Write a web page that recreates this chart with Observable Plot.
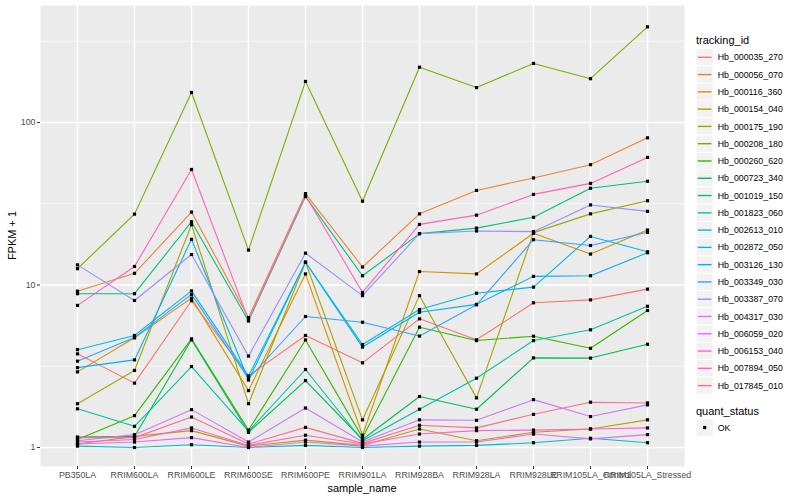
<!DOCTYPE html>
<html><head><meta charset="utf-8">
<script src="https://cdn.jsdelivr.net/npm/d3@7"></script>
<script src="https://cdn.jsdelivr.net/npm/@observablehq/plot@0.6"></script>
<style>body{margin:0;background:#fff;} #chart{width:800px;height:500px;}</style>
</head><body><div id="chart"></div>
<script>
const samples = ["PB350LA","RRIM600LA","RRIM600LE","RRIM600SE","RRIM600PE","RRIM901LA","RRIM928BA","RRIM928LA","RRIM928LE","RRIM105LA_Control","RRIM105LA_Stressed"];
const trackingIds = ["Hb_000035_270","Hb_000056_070","Hb_000116_360","Hb_000154_040","Hb_000175_190","Hb_000208_180","Hb_000260_620","Hb_000723_340","Hb_001019_150","Hb_001823_060","Hb_002613_010","Hb_002872_050","Hb_003126_130","Hb_003349_030","Hb_003387_070","Hb_004317_030","Hb_006059_020","Hb_006153_040","Hb_007894_050","Hb_017845_010"];
const palette = ["#F8766D","#EA8331","#D89000","#C09B00","#A3A500","#7CAE00","#39B600","#00BB4E","#00BF7D","#00C1A3","#00BFC4","#00BAE0","#00B0F6","#35A2FF","#9590FF","#C77CFF","#E76BF3","#FA62DB","#FF62BC","#FF6C91"];
const quantStatus = ["OK"];

// FPKM + 1 per tracking_id, in sample order
const Hb_000035_270 = [3.77, 2.49, 8.0, 2.75, 4.89, 3.32, 6.19, 4.6, 7.77, 8.1, 9.43];
const Hb_000056_070 = [9.16, 11.8, 28.1, 6.3, 36.5, 12.9, 27.4, 38.2, 45.6, 55, 80.5];
const Hb_000116_360 = [2.92, 4.73, 8.3, 2.24, 11.7, 1.19, 12.1, 11.7, 20.8, 15.5, 21.8];
const Hb_000154_040 = [1.05, 1.17, 1.27, 1.02, 1.11, 1.03, 1.30, 1.10, 1.24, 1.30, 1.48];
const Hb_000175_190 = [1.86, 2.98, 23.5, 1.86, 13.8, 1.48, 8.6, 2.02, 21.0, 27.4, 33.0];
const Hb_000208_180 = [12.6, 27.3, 153, 16.4, 179, 32.8, 219, 164, 231, 186, 388];
const Hb_000260_620 = [1.12, 1.57, 4.66, 1.28, 4.59, 1.15, 5.5, 4.55, 4.84, 4.08, 6.97];
const Hb_000723_340 = [1.16, 1.17, 4.6, 1.24, 2.58, 1.12, 2.06, 1.72, 3.56, 3.55, 4.32];
const Hb_001019_150 = [8.84, 8.84, 24.5, 6.0, 35.0, 11.4, 20.7, 22.4, 26.1, 39.4, 43.5];
const Hb_001823_060 = [1.73, 1.35, 3.15, 1.26, 3.02, 1.10, 1.72, 2.67, 4.55, 5.3, 7.4];
const Hb_002613_010 = [1.02, 1.0, 1.04, 1.0, 1.03, 1.0, 1.02, 1.03, 1.07, 1.14, 1.07];
const Hb_002872_050 = [4.0, 4.89, 9.2, 2.75, 13.8, 4.3, 7.07, 8.9, 9.7, 19.9, 16.0];
const Hb_003126_130 = [3.1, 3.46, 19.1, 2.6, 13.8, 4.15, 6.8, 7.6, 11.3, 11.4, 15.8];
const Hb_003349_030 = [3.4, 4.75, 8.75, 2.65, 6.4, 5.9, 4.85, 7.55, 19.0, 17.5, 21.1];
const Hb_003387_070 = [13.3, 8.03, 15.4, 3.65, 15.7, 8.6, 20.7, 21.5, 21.3, 31.1, 28.4];
const Hb_004317_030 = [1.1, 1.2, 1.71, 1.08, 1.75, 1.08, 1.48, 1.47, 1.97, 1.55, 1.83];
const Hb_006059_020 = [1.05, 1.08, 1.15, 1.0, 1.08, 1.02, 1.08, 1.08, 1.21, 1.13, 1.2];
const Hb_006153_040 = [1.08, 1.12, 1.32, 1.03, 1.19, 1.05, 1.21, 1.27, 1.28, 1.30, 1.32];
const Hb_007894_050 = [7.49, 13.0, 51.4, 6.1, 35.5, 9.0, 23.6, 26.9, 36.1, 42.2, 61];
const Hb_017845_010 = [1.15, 1.15, 1.54, 1.05, 1.33, 1.06, 1.37, 1.32, 1.60, 1.90, 1.88];

const seriesValues = [Hb_000035_270, Hb_000056_070, Hb_000116_360, Hb_000154_040, Hb_000175_190, Hb_000208_180, Hb_000260_620, Hb_000723_340, Hb_001019_150, Hb_001823_060, Hb_002613_010, Hb_002872_050, Hb_003126_130, Hb_003349_030, Hb_003387_070, Hb_004317_030, Hb_006059_020, Hb_006153_040, Hb_007894_050, Hb_017845_010];

const majorY = [1, 10, 100];
const minorY = [Math.sqrt(10), Math.sqrt(1000), Math.sqrt(100000)];

const rows = [];
trackingIds.forEach((id, i) => seriesValues[i].forEach((v, j) =>
  rows.push({tracking_id: id, sample_name: samples[j], fpkm: v, quant_status: quantStatus[0]})));

const font = "'Liberation Sans', Arial, Helvetica, sans-serif";
const chart = Plot.plot({
  width: 800, height: 500,
  marginTop: 5, marginBottom: 34, marginLeft: 40, marginRight: 116,
  style: {fontFamily: font, fontSize: "8.8px", background: "white", color: "black"},
  x: {type: "point", domain: samples, padding: 0.6, align: 0.5, label: null},
  y: {type: "log", domain: [0.764, 524.8], label: null},
  color: {domain: trackingIds, range: palette},
  marks: [
    Plot.frame({fill: "#ebebeb", stroke: "none"}),
    Plot.ruleY(minorY, {stroke: "white", strokeWidth: 0.7}),
    Plot.ruleY(majorY, {stroke: "white", strokeWidth: 1.4}),
    Plot.ruleX(samples, {stroke: "white", strokeWidth: 1.4}),
    Plot.line(rows, {x: "sample_name", y: "fpkm", z: "tracking_id", stroke: "tracking_id", strokeWidth: 1.1}),
    Plot.dot(rows, {x: "sample_name", y: "fpkm", symbol: "square", r: 1.8, fill: "black", stroke: "none"}),
    Plot.axisX({tickSize: 3, tickPadding: 2, fill: "#4d4d4d", stroke: "#333333", label: null}),
    Plot.axisY({ticks: majorY, tickFormat: d => String(d), tickSize: 3, tickPadding: 2, fill: "#4d4d4d", stroke: "#333333", label: null})
  ]
});
document.getElementById("chart").appendChild(chart);

const svg = d3.select(chart);
svg.append("text").attr("x", 362).attr("y", 492).attr("text-anchor", "middle")
  .attr("font-size", "11px").attr("font-family", font).attr("fill", "black").text("sample_name");
svg.append("text").attr("transform", "translate(16,235.5) rotate(-90)").attr("text-anchor", "middle")
  .attr("font-size", "11px").attr("font-family", font).attr("fill", "black").text("FPKM + 1");

// legend (ggplot style)
const lg = svg.append("g").attr("font-family", font).attr("text-anchor", "start");
const keyX = 696, keySize = 17.28, firstCy = 57.3;
lg.append("text").attr("x", keyX).attr("y", 44).attr("text-anchor", "start").attr("font-size", "11px").attr("fill", "black").text("tracking_id");
trackingIds.forEach((id, i) => {
  const cy = firstCy + keySize * i;
  lg.append("rect").attr("x", keyX).attr("y", cy - keySize / 2).attr("width", keySize).attr("height", keySize)
    .attr("fill", "#f2f2f2").attr("stroke", "white").attr("stroke-width", 1);
  lg.append("line").attr("x1", keyX + 1.7).attr("x2", keyX + keySize - 1.7).attr("y1", cy).attr("y2", cy)
    .attr("stroke", palette[i]).attr("stroke-width", 1.4);
  lg.append("text").attr("x", keyX + keySize + 4.5).attr("y", cy).attr("dy", "0.35em").attr("text-anchor", "start")
    .attr("font-size", "8.8px").attr("fill", "black").text(id);
});
lg.append("text").attr("x", keyX).attr("y", 415).attr("text-anchor", "start").attr("font-size", "11px").attr("fill", "black").text("quant_status");
quantStatus.forEach((q, i) => {
  const cy = 427.5 + keySize * i;
  lg.append("rect").attr("x", keyX).attr("y", cy - keySize / 2).attr("width", keySize).attr("height", keySize)
    .attr("fill", "#f2f2f2").attr("stroke", "white");
  lg.append("rect").attr("x", keyX + keySize / 2 - 1.6).attr("y", cy - 1.6).attr("width", 3.2).attr("height", 3.2).attr("fill", "black");
  lg.append("text").attr("x", keyX + keySize + 4.5).attr("y", cy).attr("dy", "0.35em").attr("text-anchor", "start")
    .attr("font-size", "8.8px").attr("fill", "black").text(q);
});
</script>
</body></html>
